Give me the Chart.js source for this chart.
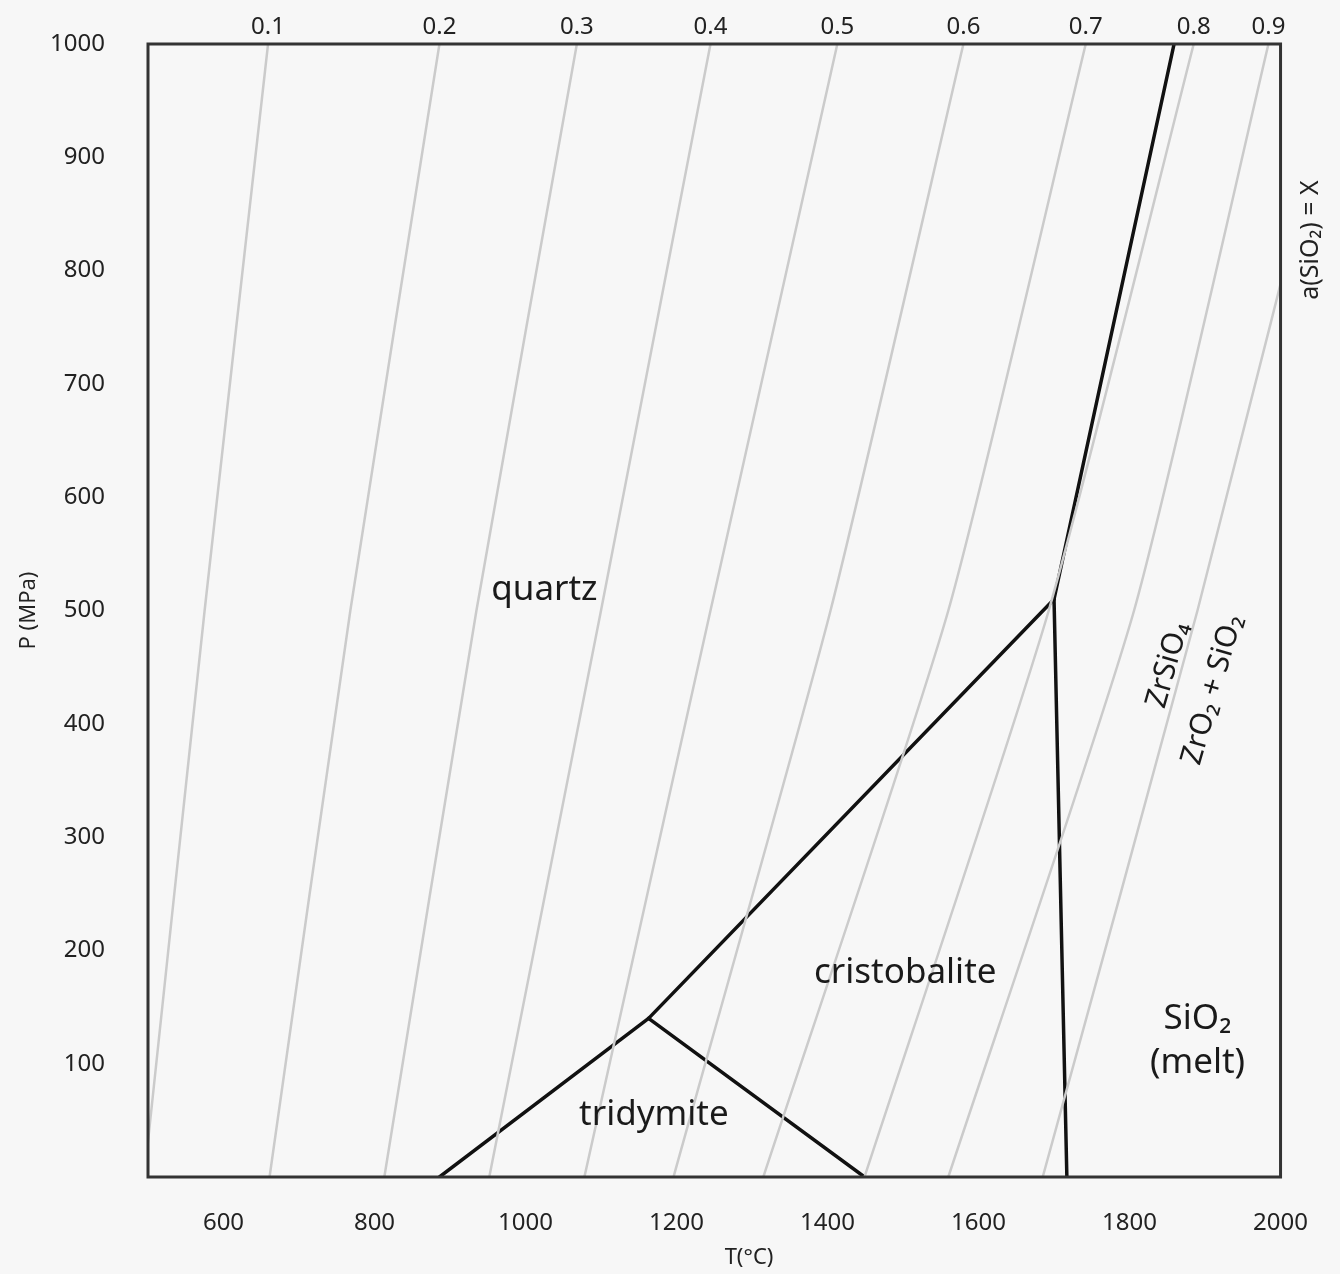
<!DOCTYPE html>
<html>
<head>
<meta charset="utf-8">
<script src="https://cdn.jsdelivr.net/npm/chart.js@4.4.1/dist/chart.umd.min.js"></script>
<style>
    html, body { margin: 0; padding: 0; background: #f7f7f7; }
    #wrap { width: 1340px; height: 1274px; }
</style>
</head>
<body>
<div id="wrap"><canvas id="diagrama" width="1340" height="1274"></canvas></div>
<script>
/* ============================================================
   DATOS
============================================================ */
// isopletas de a(SiO2): temperatura (°C) a P = 0, 500 y 1000 MPa
const actividad = ["0.1", "0.2", "0.3", "0.4", "0.5", "0.6", "0.7", "0.8", "0.9", "1.0"];
const isoP = [0, 500, 1000];
const isoT0 = [495, 661, 813, 952, 1078, 1196, 1315, 1449, 1560, 1685];
const isoT500 = [575, 768, 935, 1100, 1245, 1404, 1560, 1693, 1806, 1890];
const isoT1000 = [659, 886, 1068, 1245, 1413, 1580, 1742, 1885, 1984, 2080];

// limites de fase (T °C, P MPa)
const qzTrT = [886, 1163],   qzTrP = [0, 140];
const trCrT = [1163, 1449],  trCrP = [140, 0];
const qzCrT = [1163, 1700],  qzCrP = [140, 510];
const crMeT = [1700, 1717],  crMeP = [510, 0];
const qzMeT = [1700, 1859],  qzMeP = [510, 1000];

// ejes
const xTicks = [600, 800, 1000, 1200, 1400, 1600, 1800, 2000];
const yTicks = [100, 200, 300, 400, 500, 600, 700, 800, 900, 1000];

// rotulos de campos
const campos = ["quartz", "cristobalite", "tridymite", "SiO₂", "(melt)"];
const camposT = [1025, 1503, 1170, 1890, 1890];
const camposP = [518, 180, 55, 139, 101];

const reaccion = ["ZrSiO₄", "ZrO₂ + SiO₂"];
const reaccionT = [1851, 1910];
const reaccionP = [452, 430];

/* ============================================================
   DATASETS
============================================================ */
function puntos(ts, ps) {
    return ts.map((t, i) => ({ x: t, y: ps[i] }));
}

const datasets = [];

actividad.forEach((a, i) => {
    datasets.push({
        label: "a = " + a,
        data: puntos([isoT0[i], isoT500[i], isoT1000[i]], isoP),
        borderColor: "#cbcbcb",
        borderWidth: 2.5,
        tension: 0.2
    });
});

[[qzTrT, qzTrP], [trCrT, trCrP], [qzCrT, qzCrP], [crMeT, crMeP], [qzMeT, qzMeP]].forEach(([t, p]) => {
    datasets.push({
        label: "limite",
        data: puntos(t, p),
        borderColor: "#111",
        borderWidth: 3.5
    });
});

datasets.forEach(d => {
    d.showLine = true;
    d.pointRadius = 0;
    d.borderCapStyle = "round";
});

/* ============================================================
   PLUGIN: marco + rotulos
============================================================ */
const rotulos = {
    id: "rotulos",
    afterDatasetsDraw(chart) {
        const { ctx, chartArea: ca, scales } = chart;
        const x = scales.x, y = scales.y;

        ctx.save();
        ctx.strokeStyle = "#333";
        ctx.lineWidth = 3;
        ctx.strokeRect(ca.left, ca.top, ca.right - ca.left, ca.bottom - ca.top);

        ctx.fillStyle = "#1a1a1a";
        ctx.textAlign = "center";
        ctx.textBaseline = "middle";
        ctx.font = "35px 'Noto Sans'";
        campos.forEach((c, i) => {
            ctx.fillText(c, x.getPixelForValue(camposT[i]), y.getPixelForValue(camposP[i]));
        });

        ctx.font = "30px 'Noto Sans'";
        reaccion.forEach((r, i) => {
            ctx.save();
            ctx.translate(x.getPixelForValue(reaccionT[i]), y.getPixelForValue(reaccionP[i]));
            ctx.rotate(-74 * Math.PI / 180);
            ctx.fillText(r, 0, 0);
            ctx.restore();
        });

        // titulo del eje T
        ctx.font = "22px 'Noto Sans'";
        ctx.fillStyle = "#222";
        ctx.fillText("T(°C)", x.getPixelForValue(1296), ca.bottom + 81);

        // etiqueta del eje de isopletas
        ctx.font = "25px 'Noto Sans'";
        ctx.translate(x.getPixelForValue(2040), y.getPixelForValue(827));
        ctx.rotate(-Math.PI / 2);
        ctx.fillText("a(SiO₂) = X", 0, 0);
        ctx.restore();
    }
};

/* ============================================================
   GRAFICA
============================================================ */
const fuente = { family: "'Noto Sans', sans-serif", size: 24 };

new Chart(document.getElementById("diagrama"), {
    type: "scatter",
    data: { datasets },
    plugins: [rotulos],
    options: {
        responsive: false,
        animation: false,
        layout: { padding: { left: 0, right: 57, top: 0, bottom: 0 } },
        plugins: { legend: { display: false }, tooltip: { enabled: false } },
        scales: {
            x: {
                type: "linear",
                position: "bottom",
                min: 500,
                max: 2000,
                afterBuildTicks: s => { s.ticks = xTicks.map(v => ({ value: v })); },
                afterFit: s => { s.height = 97; },
                grid: { display: false, drawTicks: false },
                border: { display: false },
                ticks: { color: "#222", font: fuente, padding: 32, maxRotation: 0, autoSkip: false, callback: v => String(v) }
            },
            x2: {
                type: "linear",
                position: "top",
                min: 500,
                max: 2000,
                afterBuildTicks: s => { s.ticks = isoT1000.slice(0, 9).map(v => ({ value: v })); },
                afterFit: s => { s.height = 44; },
                grid: { display: false, drawTicks: false },
                border: { display: false },
                ticks: {
                    color: "#222", font: fuente, padding: 2, maxRotation: 0, autoSkip: false,
                    callback: (v, i) => actividad[i]
                }
            },
            y: {
                type: "linear",
                min: 0,
                max: 1000,
                afterBuildTicks: s => { s.ticks = yTicks.map(v => ({ value: v })); },
                afterFit: s => {
                    s.width = 148;
                    // el padding de las etiquetas no debe empujar el area del grafico
                    s.paddingTop = 0;
                    s.paddingBottom = 0;
                },
                grid: { display: false, drawTicks: false },
                border: { display: false },
                ticks: { color: "#222", font: fuente, padding: 43, autoSkip: false, callback: v => String(v) },
                title: { display: true, text: "P (MPa)", color: "#222", font: { family: "'Noto Sans', sans-serif", size: 22 }, padding: { top: 16, bottom: 0 } }
            }
        }
    }
});
</script>
</body>
</html>
